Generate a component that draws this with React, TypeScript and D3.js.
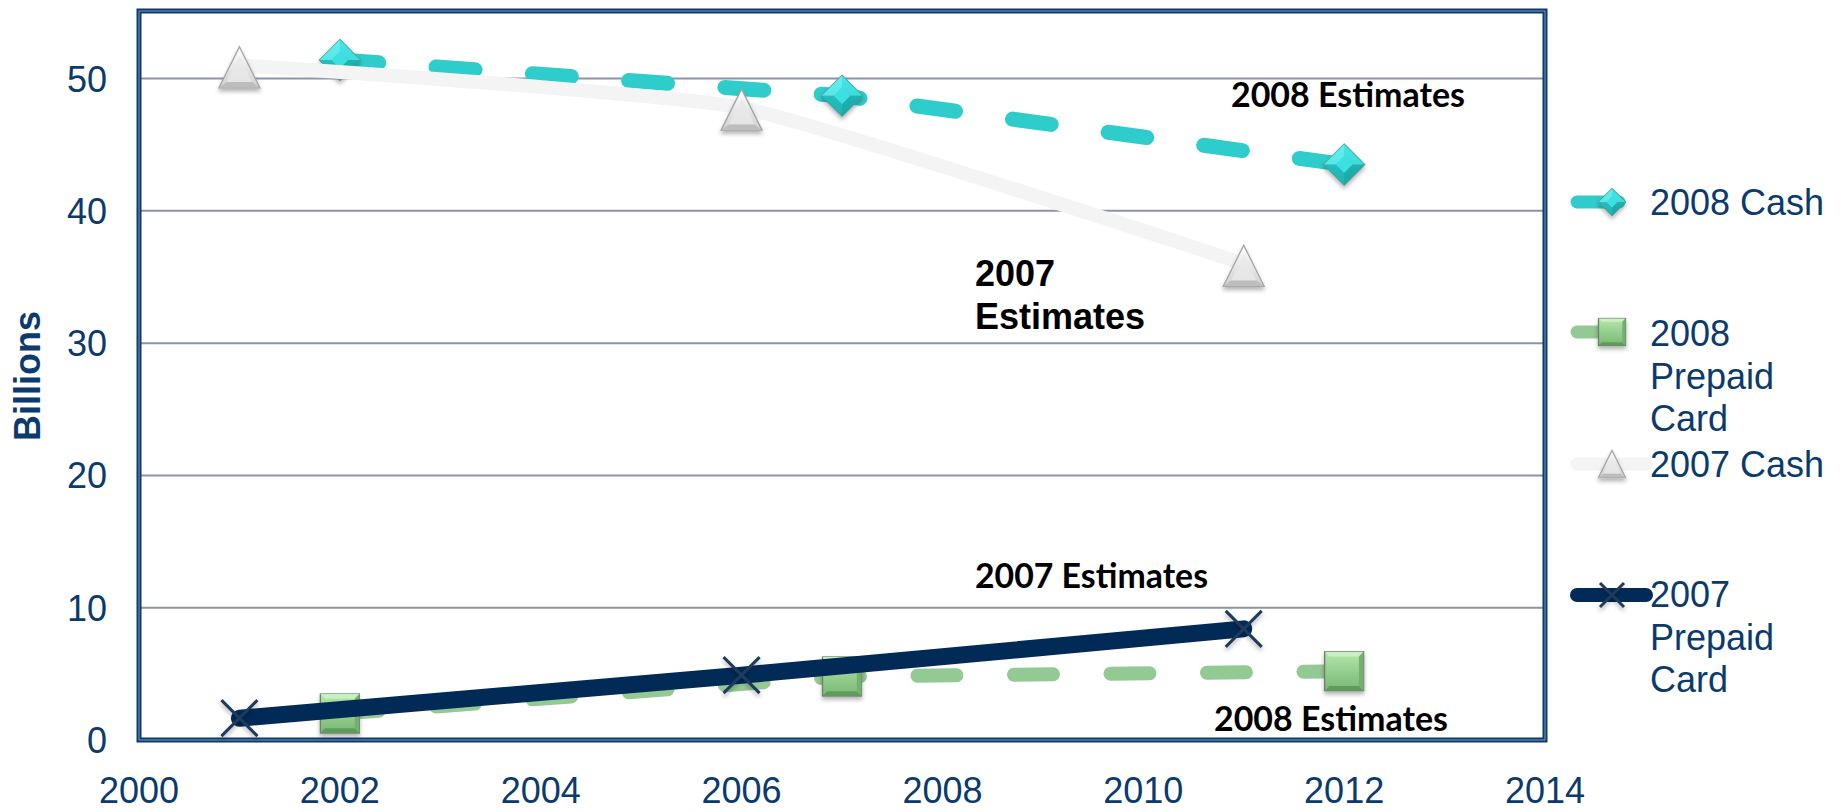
import React from "react";
import * as d3 from "d3";

// Series values (billions)
const years2008 = [2002, 2007, 2012];
const cash2008 = [51.4, 48.7, 43.5];
const prepaid2008 = [2.0, 4.8, 5.2];

const years2007 = [2001, 2006, 2011];
const cash2007 = [51.0, 47.8, 36.0];
const prepaid2007 = [1.65, 4.9, 8.4];

const xTicks = [2000, 2002, 2004, 2006, 2008, 2010, 2012, 2014];
const yTicks = [0, 10, 20, 30, 40, 50];

const legendItems = [
  { key: "cash2008", lines: ["2008 Cash"] },
  { key: "prepaid2008", lines: ["2008", "Prepaid", "Card"] },
  { key: "cash2007", lines: ["2007 Cash"] },
  { key: "prepaid2007", lines: ["2007", "Prepaid", "Card"] },
];

const W = 1843;
const H = 812;
const PLOT = { left: 139, right: 1545, top: 12.4, bottom: 740 };

const NAVY_TEXT = "#0b3a6d";
const TEAL = "#2fcccc";
const GREEN = "#93c993";
const LIGHT = "#f4f4f4";
const NAVY = "#022a56";

const x = d3.scaleLinear().domain([2000, 2014]).range([PLOT.left, PLOT.right]);
const y = d3.scaleLinear().domain([0, 55]).range([PLOT.bottom, PLOT.top]);

type Pt = [number, number];
const pts = (xs: number[], ys: number[]): Pt[] => xs.map((v, i) => [v, ys[i]]);

const straight = d3
  .line<Pt>()
  .x((d) => x(d[0]))
  .y((d) => y(d[1]));
const smooth = d3
  .line<Pt>()
  .x((d) => x(d[0]))
  .y((d) => y(d[1]))
  .curve(d3.curveCardinal.tension(0.55));

function Diamond({ cx, cy, s }: { cx: number; cy: number; s: number }) {
  const h = s / 2;
  const i = s * 0.2;
  return (
    <g transform={`translate(${cx},${cy})`} filter="url(#mshadow)">
      <path d={`M0,${-h}L${h},0L0,${h}L${-h},0Z`} fill="url(#gTeal)" stroke="#4a9c9c" strokeWidth={1.2} />
      <path d={`M0,${-h}L${-h},0L${-i},0L0,${-i}Z`} fill="#6af2f2" opacity={0.7} />
      <path d={`M0,${-h}L${h},0L${i},0L0,${-i}Z`} fill="#45e2e2" opacity={0.7} />
      <path d={`M0,${h}L${-h},0L${-i},0L0,${i}Z`} fill="#21b8b8" opacity={0.7} />
      <path d={`M0,${h}L${h},0L${i},0L0,${i}Z`} fill="#1aa6a6" opacity={0.7} />
      <path d={`M0,${-i}L${i},0L0,${i}L${-i},0Z`} fill="#3ee0e0" />
    </g>
  );
}

function Triangle({ cx, cy, s }: { cx: number; cy: number; s: number }) {
  const h = s / 2;
  return (
    <g transform={`translate(${cx},${cy})`} filter="url(#mshadow)">
      <path d={`M0,${-h}L${h},${h}L${-h},${h}Z`} fill="url(#gTri)" stroke="#a3a3a3" strokeWidth={1.3} />
      <path d={`M0,${-h * 0.55}L${h * 0.62},${h * 0.72}L${-h * 0.62},${h * 0.72}Z`} fill="#e9e9e9" opacity={0.8} />
      <path d={`M${-h},${h}L${h},${h}L${h * 0.62},${h * 0.72}L${-h * 0.62},${h * 0.72}Z`} fill="#bdbdbd" />
    </g>
  );
}

function Square({ cx, cy, s }: { cx: number; cy: number; s: number }) {
  const h = s / 2;
  const b = s * 0.12;
  return (
    <g transform={`translate(${cx},${cy})`} filter="url(#mshadow)">
      <rect x={-h} y={-h} width={s} height={s} fill="url(#gSq)" stroke="#6a806a" strokeWidth={1.3} />
      <path d={`M${-h},${-h}L${h},${-h}L${h - b},${-h + b}L${-h + b},${-h + b}Z`} fill="#c9f0c2" />
      <path d={`M${-h},${h}L${h},${h}L${h - b},${h - b}L${-h + b},${h - b}Z`} fill="#5f9c5b" />
      <path d={`M${h},${-h}L${h},${h}L${h - b},${h - b}L${h - b},${-h + b}Z`} fill="#74b070" />
    </g>
  );
}

function Cross({ cx, cy, s }: { cx: number; cy: number; s: number }) {
  const h = s / 2;
  return (
    <g transform={`translate(${cx},${cy})`} filter="url(#mshadow)">
      <path d={`M${-h},${-h}L${h},${h}M${h},${-h}L${-h},${h}`} stroke="#1c3a5e" strokeWidth={3} />
    </g>
  );
}

const MARKERS: Record<string, (p: { cx: number; cy: number; s: number }) => JSX.Element> = {
  cash2008: Diamond,
  prepaid2008: Square,
  cash2007: Triangle,
  prepaid2007: Cross,
};

export default function App() {
  const c08 = pts(years2008, cash2008);
  const p08 = pts(years2008, prepaid2008);
  const c07 = pts(years2007, cash2007);
  const p07 = pts(years2007, prepaid2007);

  const axisFont = "'Liberation Sans', Arial, sans-serif";
  const noteFont = "Lato, 'Open Sans', sans-serif";

  const legendY = [202, 332, 464, 595];
  const legendBase = [[215], [346, 389, 431], [477], [607, 650, 692]];

  return (
    <svg
      width={W}
      height={H}
      viewBox={`0 0 ${W} ${H}`}
      style={{ position: "absolute", left: 0, top: 0, background: "#fff" }}
    >
      <defs>
        <linearGradient id="gTeal" x1="0" y1="0" x2="0" y2="1">
          <stop offset="0" stopColor="#4aeeee" />
          <stop offset="1" stopColor="#1aa6a6" />
        </linearGradient>
        <linearGradient id="gTri" x1="0" y1="0" x2="0" y2="1">
          <stop offset="0" stopColor="#ffffff" />
          <stop offset="1" stopColor="#d0d0d0" />
        </linearGradient>
        <linearGradient id="gSq" x1="0" y1="0" x2="0" y2="1">
          <stop offset="0" stopColor="#b4e6ab" />
          <stop offset="1" stopColor="#78b873" />
        </linearGradient>
        <filter id="mshadow" x="-40%" y="-40%" width="180%" height="190%">
          <feDropShadow dx="0" dy="3" stdDeviation="2" floodColor="#000" floodOpacity="0.3" />
        </filter>
      </defs>

      {/* gridlines */}
      {yTicks
        .filter((t) => t > 0)
        .map((t) => (
          <line key={t} x1={PLOT.left} x2={PLOT.right} y1={y(t)} y2={y(t)} stroke="#8a94aa" strokeWidth={2} />
        ))}

      {/* plot frame */}
      <rect
        x={PLOT.left}
        y={PLOT.top - 1.4}
        width={PLOT.right - PLOT.left}
        height={PLOT.bottom - PLOT.top + 1.4}
        fill="none"
        stroke="#0b3a6d"
        strokeWidth={5}
      />
      <rect
        x={PLOT.left}
        y={PLOT.top - 1.4}
        width={PLOT.right - PLOT.left}
        height={PLOT.bottom - PLOT.top + 1.4}
        fill="none"
        stroke="#7f98b8"
        strokeWidth={1}
      />

      {/* 2008 Cash */}
      <path
        d={straight(c08) ?? ""}
        fill="none"
        stroke={TEAL}
        strokeWidth={15}
        strokeLinecap="round"
        strokeDasharray="39 57.5"
      />
      {c08.map((d, i) => (
        <Diamond key={i} cx={x(d[0])} cy={y(d[1])} s={41} />
      ))}

      {/* 2008 Prepaid Card */}
      <path
        d={straight(p08) ?? ""}
        fill="none"
        stroke={GREEN}
        strokeWidth={14}
        strokeLinecap="round"
        strokeDasharray="39 57.5"
      />
      {p08.map((d, i) => (
        <Square key={i} cx={x(d[0])} cy={y(d[1])} s={39} />
      ))}

      {/* 2007 Cash */}
      <path d={smooth(c07) ?? ""} fill="none" stroke={LIGHT} strokeWidth={14} strokeLinecap="round" />
      {c07.map((d, i) => (
        <Triangle key={i} cx={x(d[0])} cy={y(d[1]) + 2} s={41} />
      ))}

      {/* 2007 Prepaid Card */}
      <path d={straight(p07) ?? ""} fill="none" stroke={NAVY} strokeWidth={17} strokeLinecap="round" />
      {p07.map((d, i) => (
        <Cross key={i} cx={x(d[0])} cy={y(d[1])} s={36} />
      ))}

      {/* annotations */}
      <g fontFamily={noteFont} fontWeight={700} fontSize={34} fill="#000">
        <text x={1231} y={107} textLength={234} lengthAdjust="spacingAndGlyphs">
          2008 Estimates
        </text>
        <text x={975} y={588} textLength={233} lengthAdjust="spacingAndGlyphs">
          2007 Estimates
        </text>
        <text x={1214} y={731} textLength={234} lengthAdjust="spacingAndGlyphs">
          2008 Estimates
        </text>
      </g>
      <g fontFamily={axisFont} fontWeight={700} fontSize={36} fill="#000">
        <text x={975} y={286}>2007</text>
        <text x={975} y={329}>Estimates</text>
      </g>

      {/* axes */}
      <g fontFamily={axisFont} fontSize={36} fill={NAVY_TEXT}>
        {yTicks.map((t) => (
          <text key={t} x={107} y={y(t)} dy="0.36em" textAnchor="end">
            {t}
          </text>
        ))}
        {xTicks.map((t) => (
          <text key={t} x={x(t)} y={803} textAnchor="middle">
            {t}
          </text>
        ))}
        <text
          transform={`translate(27,376) rotate(-90)`}
          textAnchor="middle"
          dy="0.36em"
          fontWeight={700}
        >
          Billions
        </text>
      </g>

      {/* legend */}
      {legendItems.map((item, i) => {
        const ly = legendY[i];
        const is2007 = item.key.endsWith("2007");
        const stroke =
          item.key === "cash2008" ? TEAL : item.key === "prepaid2008" ? GREEN : item.key === "cash2007" ? LIGHT : NAVY;
        const sw = item.key === "prepaid2007" ? 14 : 13;
        const M = MARKERS[item.key];
        return (
          <g key={item.key}>
            <line
              x1={1577}
              x2={is2007 ? 1646 : 1619}
              y1={ly}
              y2={ly}
              stroke={stroke}
              strokeWidth={sw}
              strokeLinecap="round"
            />
            <M cx={1612} cy={ly} s={item.key === "prepaid2007" ? 24 : 27} />
            <text fontFamily={axisFont} fontSize={36} fill={NAVY_TEXT}>
              {item.lines.map((ln, j) => (
                <tspan key={j} x={1650} y={legendBase[i][j]}>
                  {ln}
                </tspan>
              ))}
            </text>
          </g>
        );
      })}
    </svg>
  );
}
